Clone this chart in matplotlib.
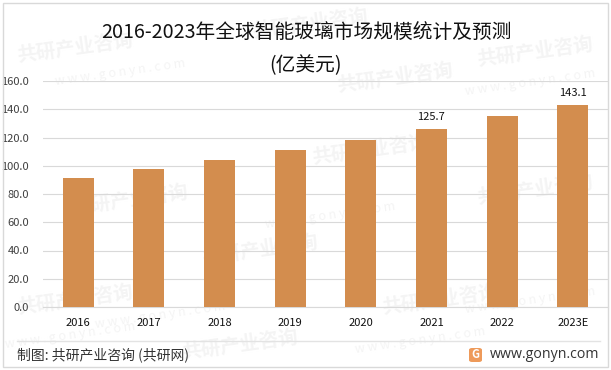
import matplotlib
matplotlib.use("Agg")
import matplotlib.pyplot as plt
from matplotlib.patches import Rectangle, FancyBboxPatch

plt.rcParams['font.family'] = ['Noto Sans CJK SC', 'DejaVu Sans']

years = ['2016', '2017', '2018', '2019', '2020', '2021', '2022', '2023E']
values = [91.0, 97.5, 104.0, 111.0, 118.0, 125.7, 135.0, 143.1]
labelled = {'2021': '125.7', '2023E': '143.1'}
y_ticks = [0, 20, 40, 60, 80, 100, 120, 140, 160]

W, H = 611, 370
fig = plt.figure(figsize=(W / 100, H / 100), dpi=100, facecolor='white')


def fx(px):
    return px / W


def fy(py):
    return 1 - py / H


# watermarks behind everything
wm_color = '#f4f4f4'
for x, y in [(75, 48), (310, 24), (535, 52), (395, 78), (130, 200), (370, 150), (535, 190),
             (75, 300), (240, 345), (440, 300), (260, 250)]:
    fig.text(fx(x), fy(y), '共研产业咨询', fontsize=14, fontweight='bold', color=wm_color,
             rotation=8, ha='center', va='center', zorder=-5)
for x, y in [(120, 72), (530, 82), (420, 340), (160, 315), (330, 215), (70, 335), (530, 300)]:
    fig.text(fx(x), fy(y), 'w w w . g o n y n . c o m', fontsize=9, color=wm_color,
             rotation=8, ha='center', va='center', zorder=-5)

# outer frame
fig.add_artist(Rectangle((fx(3), fy(367)), fx(605), 364 / H, transform=fig.transFigure,
                         fill=False, ec='#d9d9d9', lw=1))

ax = fig.add_axes([fx(43), fy(307), fx(565), 226 / H])
ax.patch.set_alpha(0)
bars = ax.bar(years, values, width=0.44, color='#d38d4e', zorder=3)
ax.set_xlim(-0.5, 7.5)
ax.set_ylim(0, 160)
ax.set_yticks(y_ticks)
ax.set_yticklabels([f'{v:.1f}' for v in y_ticks], fontsize=8, color='#404040')
ax.grid(axis='y', color='#d9d9d9', lw=0.8, zorder=0)
ax.tick_params(length=0)
ax.tick_params(axis='y', pad=10)
ax.tick_params(axis='x', pad=8, labelsize=8, labelcolor='#111111')
for s in ['top', 'right', 'left']:
    ax.spines[s].set_visible(False)
ax.spines['bottom'].set_color('#d9d9d9')

for bar, year in zip(bars, years):
    if year in labelled:
        ax.text(bar.get_x() + bar.get_width() / 2, bar.get_height() + 5, labelled[year],
                ha='center', va='bottom', fontsize=8, color='#111111')

fig.text(fx(306), fy(32), '2016-2023年全球智能玻璃市场规模统计及预测', fontsize=14.2,
         color='#111111', ha='center', va='center')
fig.text(fx(306), fy(66), '(亿美元)', fontsize=14.2, color='#111111', ha='center', va='center')

# footer
fig.add_artist(plt.Line2D([fx(17), fx(600)], [fy(341), fy(341)], color='#e3e3e3', lw=1))
fig.text(fx(17), fy(355), '制图: 共研产业咨询 (共研网)', fontsize=10, color='#333333',
         ha='left', va='center')
fig.text(fx(490), fy(354), 'www.gonyn.com', fontsize=10.2, color='#333333',
         ha='left', va='center', family='Open Sans')
fig.add_artist(FancyBboxPatch((fx(469), fy(362)), 13 / W, 14 / H, transform=fig.transFigure,
                              boxstyle='round,pad=0,rounding_size=0.005', fc='#ee9a5a', ec='none'))
fig.text(fx(475.5), fy(355), 'G', fontsize=8, fontweight='bold', color='white',
         ha='center', va='center')

fig.savefig('out.png', dpi=100)
